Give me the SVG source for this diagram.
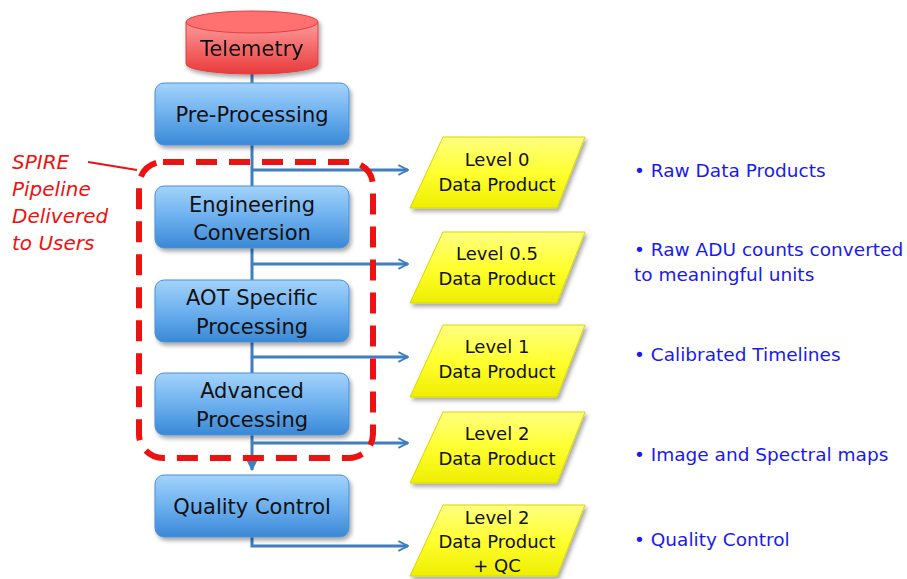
<svg xmlns="http://www.w3.org/2000/svg" width="907" height="579" viewBox="0 0 907 579">
<defs>
<linearGradient id="gBlue" x1="0" y1="0" x2="0" y2="1">
<stop offset="0" stop-color="#a3d3fb"/><stop offset="0.5" stop-color="#6db0ef"/><stop offset="1" stop-color="#3a88d6"/>
</linearGradient>
<linearGradient id="gRed" x1="0" y1="0" x2="0" y2="1">
<stop offset="0" stop-color="#ff9a9a"/><stop offset="1" stop-color="#e83a3a"/>
</linearGradient>
<linearGradient id="gYel" x1="0" y1="0" x2="0" y2="1">
<stop offset="0" stop-color="#ffff80"/><stop offset="0.5" stop-color="#ffff30"/><stop offset="1" stop-color="#eeee00"/>
</linearGradient>
<marker id="arr" viewBox="0 0 10 10" refX="9" refY="5" markerWidth="4" markerHeight="4" orient="auto" markerUnits="strokeWidth">
<path d="M1,1 L9,5 L1,9" fill="none" stroke="#3f7fc0" stroke-width="1.6"/>
</marker>
<marker id="arrF" viewBox="0 0 10 10" refX="9" refY="5" markerWidth="4" markerHeight="4" orient="auto" markerUnits="strokeWidth">
<path d="M0,0 L10,5 L0,10 Z" fill="#3f7fc0"/>
</marker>
<filter id="sh" x="-10%" y="-10%" width="130%" height="140%">
<feDropShadow dx="2" dy="3" stdDeviation="2" flood-color="#000" flood-opacity="0.35"/>
</filter>
</defs>
<style>
.box{fill:url(#gBlue);stroke:#4a90d8;stroke-width:1;filter:url(#sh)}
.par{fill:url(#gYel);stroke:#d8d800;stroke-width:1;filter:url(#sh)}
.lbl{font-family:"DejaVu Sans",sans-serif;font-size:21px;fill:#111;text-anchor:middle}
.plbl{font-family:"DejaVu Sans",sans-serif;font-size:18px;fill:#111;text-anchor:middle}
.note{font-family:"DejaVu Sans",sans-serif;font-size:18.5px;fill:#1a1aee}
.red{font-family:"DejaVu Sans",sans-serif;font-size:20px;fill:#ee1111;font-style:italic}
.con{fill:none;stroke:#3f7fc0;stroke-width:3}
</style>

<g id="connectors">
<line class="con" x1="252" y1="70" x2="252" y2="470" marker-end="url(#arrF)"/>
<line class="con" x1="252" y1="170" x2="408" y2="170" marker-end="url(#arr)"/>
<line class="con" x1="252" y1="264" x2="408" y2="264" marker-end="url(#arr)"/>
<line class="con" x1="252" y1="357" x2="408" y2="357" marker-end="url(#arr)"/>
<line class="con" x1="252" y1="443" x2="408" y2="443" marker-end="url(#arr)"/>
<polyline class="con" points="252,537 252,546 408,546" marker-end="url(#arr)"/>
</g>

<g id="telemetry" filter="url(#sh)">
<path d="M186,22 L186,64 A66,10 0 0 0 318,64 L318,22 Z" fill="url(#gRed)" stroke="#e04040"/>
<ellipse cx="252" cy="22" rx="66" ry="11" fill="#ff7070" stroke="#e04040"/>
<text class="lbl" x="252" y="56">Telemetry</text>
</g>

<g id="preprocessing">
<rect class="box" x="155" y="83" width="194" height="62" rx="9"/>
<text class="lbl" x="252" y="122">Pre-Processing</text>
</g>
<g id="engineering">
<rect class="box" x="155" y="186" width="194" height="62" rx="9"/>
<text class="lbl" x="252" y="212">Engineering</text>
<text class="lbl" x="252" y="240">Conversion</text>
</g>
<g id="aot">
<rect class="box" x="155" y="280" width="194" height="62" rx="9"/>
<text class="lbl" x="252" y="305">AOT Specific</text>
<text class="lbl" x="252" y="334">Processing</text>
</g>
<g id="advanced">
<rect class="box" x="155" y="373" width="194" height="62" rx="9"/>
<text class="lbl" x="252" y="398">Advanced</text>
<text class="lbl" x="252" y="427">Processing</text>
</g>
<g id="qc">
<rect class="box" x="155" y="475" width="194" height="62" rx="9"/>
<text class="lbl" x="252" y="514">Quality Control</text>
</g>

<g id="spire-boundary">
<rect x="139" y="162" width="234" height="296" rx="24" fill="none" stroke="#ee1111" stroke-width="6" stroke-dasharray="21 12"/>
<line x1="88" y1="162" x2="137" y2="170" stroke="#ee1111" stroke-width="2"/>
<text class="red" x="12" y="169">SPIRE</text>
<text class="red" x="12" y="196">Pipeline</text>
<text class="red" x="12" y="223">Delivered</text>
<text class="red" x="12" y="250">to Users</text>
</g>

<g id="level0">
<polygon class="par" points="443,137 585,137 557,208 410,208"/>
<text class="plbl" x="497" y="166">Level 0</text>
<text class="plbl" x="497" y="191">Data Product</text>
</g>
<g id="level05">
<polygon class="par" points="443,232 585,232 557,303 410,303"/>
<text class="plbl" x="497" y="260">Level 0.5</text>
<text class="plbl" x="497" y="285">Data Product</text>
</g>
<g id="level1">
<polygon class="par" points="443,325 585,325 557,397 410,397"/>
<text class="plbl" x="497" y="353">Level 1</text>
<text class="plbl" x="497" y="378">Data Product</text>
</g>
<g id="level2">
<polygon class="par" points="443,412 585,412 557,483 410,483"/>
<text class="plbl" x="497" y="440">Level 2</text>
<text class="plbl" x="497" y="465">Data Product</text>
</g>
<g id="level2qc">
<polygon class="par" points="443,505 585,505 557,576 410,576"/>
<text class="plbl" x="497" y="524">Level 2</text>
<text class="plbl" x="497" y="548">Data Product</text>
<text class="plbl" x="497" y="572">+ QC</text>
</g>

<g id="notes">
<text class="note" x="634" y="177">• Raw Data Products</text>
<text class="note" x="634" y="256">• Raw ADU counts converted</text>
<text class="note" x="634" y="281">to meaningful units</text>
<text class="note" x="634" y="361">• Calibrated Timelines</text>
<text class="note" x="634" y="461">• Image and Spectral maps</text>
<text class="note" x="634" y="546">• Quality Control</text>
</g>
</svg>
